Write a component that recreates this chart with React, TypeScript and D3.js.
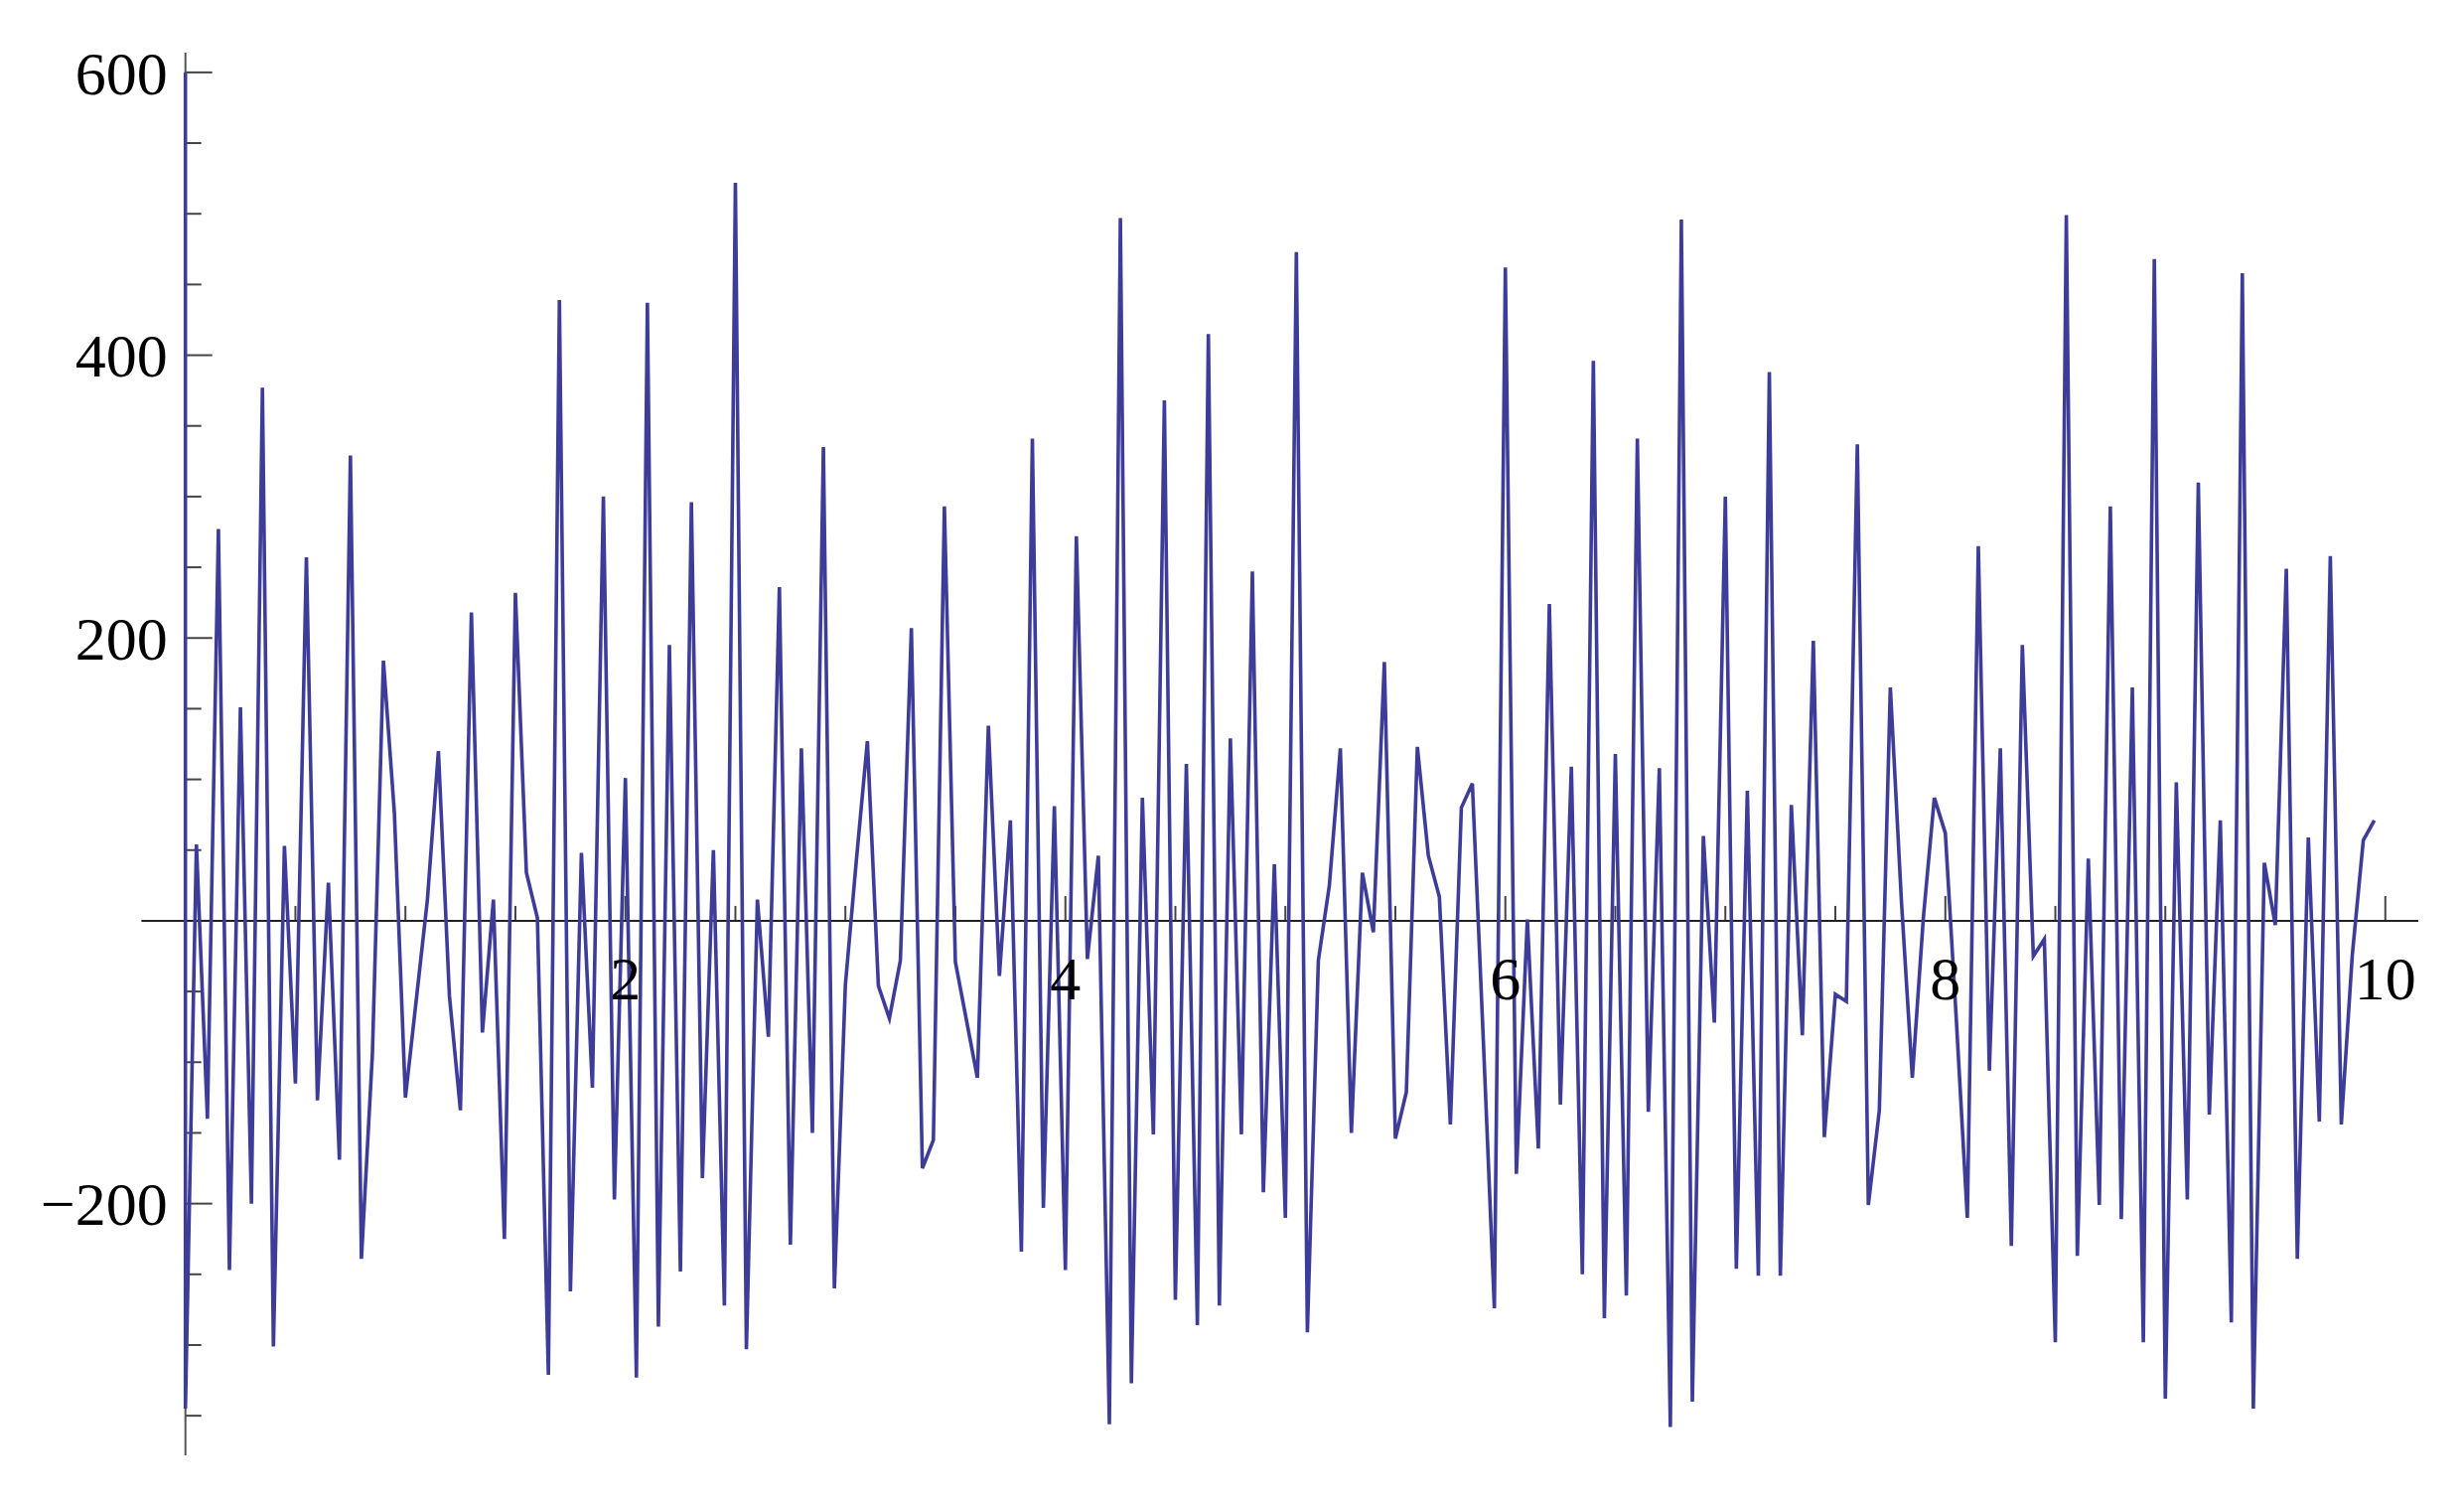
// App.tsx
import React, { useEffect, useRef } from 'react';
import * as d3 from 'd3';

// sample spacing along x
const X_STEP = 0.05;
// first sample is clipped at the top of the plot range
const START_SPIKE = 600;

const yValues = [
  -345, 54, -140, 277, -247, 151, -200, 377, -301, 53,
  -115, 257, -127, 27, -169, 329, -239, -94, 184, 76,
  -125, -55, 15, 120, -53, -134, 218, -79, 15, -225,
  232, 34, 2, -321, 439, -262, 48, -118, 300, -197,
  101, -323, 437, -287, 195, -248, 296, -182, 50, -272,
  522, -303, 15, -82, 236, -229, 122, -150, 335, -260,
  -45, 43, 127, -46, -69, -28, 207, -175, -155, 293,
  -29, -70, -111, 138, -39, 71, -234, 341, -203, 81,
  -247, 272, -27, 46, -356, 497, -327, 87, -151, 368,
  -268, 111, -286, 415, -272, 129, -151, 247, -192, 40,
  -210, 473, -291, -28, 25, 122, -150, 34, -8, 183,
  -154, -121, 123, 46, 17, -144, 80, 97, -85, -274,
  462, -179, 1, -161, 224, -130, 109, -250, 396, -281,
  118, -265, 341, -135, 108, -358, 496, -340, 60, -72,
  300, -246, 92, -251, 388, -251, 82, -81, 198, -153,
  -52, -57, 337, -201, -134, 165, 15, -111, 2, 87,
  62, -70, -210, 265, -106, 122, -230, 195, -25, -13,
  -298, 499, -237, 44, -201, 293, -211, 165, -298, 468,
  -338, 98, -197, 310, -137, 71, -284, 458, -345, 41,
  -3, 249, -239, 59, -142, 258, -144, -24, 57, 71,
];

const xTickLabels = [2, 4, 6, 8, 10];
const yTickLabels = [-200, 200, 400, 600];

const WIDTH = 2481;
const HEIGHT = 1512;

const App = () => {
  const svgRef = useRef(null);

  useEffect(() => {
    const svg = d3.select(svgRef.current);
    svg.selectAll('*').remove();

    const xScale = d3.scaleLinear().domain([-0.2, 10.15]).range([142.4, 2435]);
    const yScale = d3.scaleLinear().domain([-378, 620]).range([1465, 44.4]);

    const x0 = xScale(0);
    const y0 = yScale(0);
    const axisColor = '#222';
    const tickColor = '#444';
    const font = '"Liberation Serif", "Times New Roman", serif';

    // clip to plot range
    svg
      .append('defs')
      .append('clipPath')
      .attr('id', 'plot-clip')
      .append('rect')
      .attr('x', xScale(-0.2))
      .attr('y', yScale(600))
      .attr('width', xScale(10.15) - xScale(-0.2))
      .attr('height', yScale(-378) - yScale(600));

    // minor + major ticks on x axis (pointing up)
    const xMinor = d3.range(0.5, 10.01, 0.5).filter((t) => t % 2 !== 0);
    const xMajor = [0, ...xTickLabels];

    svg
      .append('g')
      .selectAll('line')
      .data(xMinor)
      .enter()
      .append('line')
      .attr('x1', (d) => xScale(d))
      .attr('x2', (d) => xScale(d))
      .attr('y1', y0)
      .attr('y2', y0 - 15)
      .attr('stroke', tickColor)
      .attr('stroke-width', 2);

    svg
      .append('g')
      .selectAll('line')
      .data(xMajor)
      .enter()
      .append('line')
      .attr('x1', (d) => xScale(d))
      .attr('x2', (d) => xScale(d))
      .attr('y1', y0)
      .attr('y2', y0 - 25)
      .attr('stroke', tickColor)
      .attr('stroke-width', 2);

    // ticks on y axis (pointing right)
    const yMinor = d3.range(-350, 601, 50).filter((t) => t % 200 !== 0);
    const yMajor = [0, ...yTickLabels];

    svg
      .append('g')
      .selectAll('line')
      .data(yMinor)
      .enter()
      .append('line')
      .attr('x1', x0)
      .attr('x2', x0 + 16)
      .attr('y1', (d) => yScale(d))
      .attr('y2', (d) => yScale(d))
      .attr('stroke', tickColor)
      .attr('stroke-width', 2);

    svg
      .append('g')
      .selectAll('line')
      .data(yMajor)
      .enter()
      .append('line')
      .attr('x1', x0)
      .attr('x2', x0 + 27)
      .attr('y1', (d) => yScale(d))
      .attr('y2', (d) => yScale(d))
      .attr('stroke', tickColor)
      .attr('stroke-width', 2);

    // axes
    svg
      .append('line')
      .attr('x1', xScale(-0.2))
      .attr('x2', xScale(10.15))
      .attr('y1', y0)
      .attr('y2', y0)
      .attr('stroke', axisColor)
      .attr('stroke-width', 2);

    svg
      .append('line')
      .attr('x1', x0)
      .attr('x2', x0)
      .attr('y1', yScale(614))
      .attr('y2', yScale(-378))
      .attr('stroke', '#555')
      .attr('stroke-width', 2);

    // data line
    const points = [
      [0, START_SPIKE],
      ...yValues.map((v, i) => [i * X_STEP, v]),
    ];

    const line = d3
      .line()
      .x((d) => xScale(d[0]))
      .y((d) => yScale(d[1]));

    svg
      .append('path')
      .datum(points)
      .attr('d', line)
      .attr('fill', 'none')
      .attr('stroke', '#3d3d99')
      .attr('stroke-width', 3.6)
      .attr('stroke-linejoin', 'miter')
      .attr('stroke-miterlimit', 4)
      .attr('clip-path', 'url(#plot-clip)');

    // tick labels
    svg
      .append('g')
      .selectAll('text')
      .data(xTickLabels)
      .enter()
      .append('text')
      .attr('x', (d) => xScale(d))
      .attr('y', y0 + 79)
      .attr('text-anchor', 'middle')
      .attr('font-family', font)
      .attr('font-size', 62)
      .attr('fill', '#000')
      .text((d) => `${d}`);

    svg
      .append('g')
      .selectAll('text')
      .data(yTickLabels)
      .enter()
      .append('text')
      .attr('x', x0 - 18)
      .attr('y', (d) => yScale(d))
      .attr('dy', '0.35em')
      .attr('text-anchor', 'end')
      .attr('font-family', font)
      .attr('font-size', 62)
      .attr('fill', '#000')
      .text((d) => (d < 0 ? `\u2212${Math.abs(d)}` : `${d}`));
  }, []);

  return (
    <svg
      ref={svgRef}
      width={WIDTH}
      height={HEIGHT}
      style={{ position: 'absolute', left: 0, top: 0, background: 'white', display: 'block' }}
    ></svg>
  );
};

export default App;
